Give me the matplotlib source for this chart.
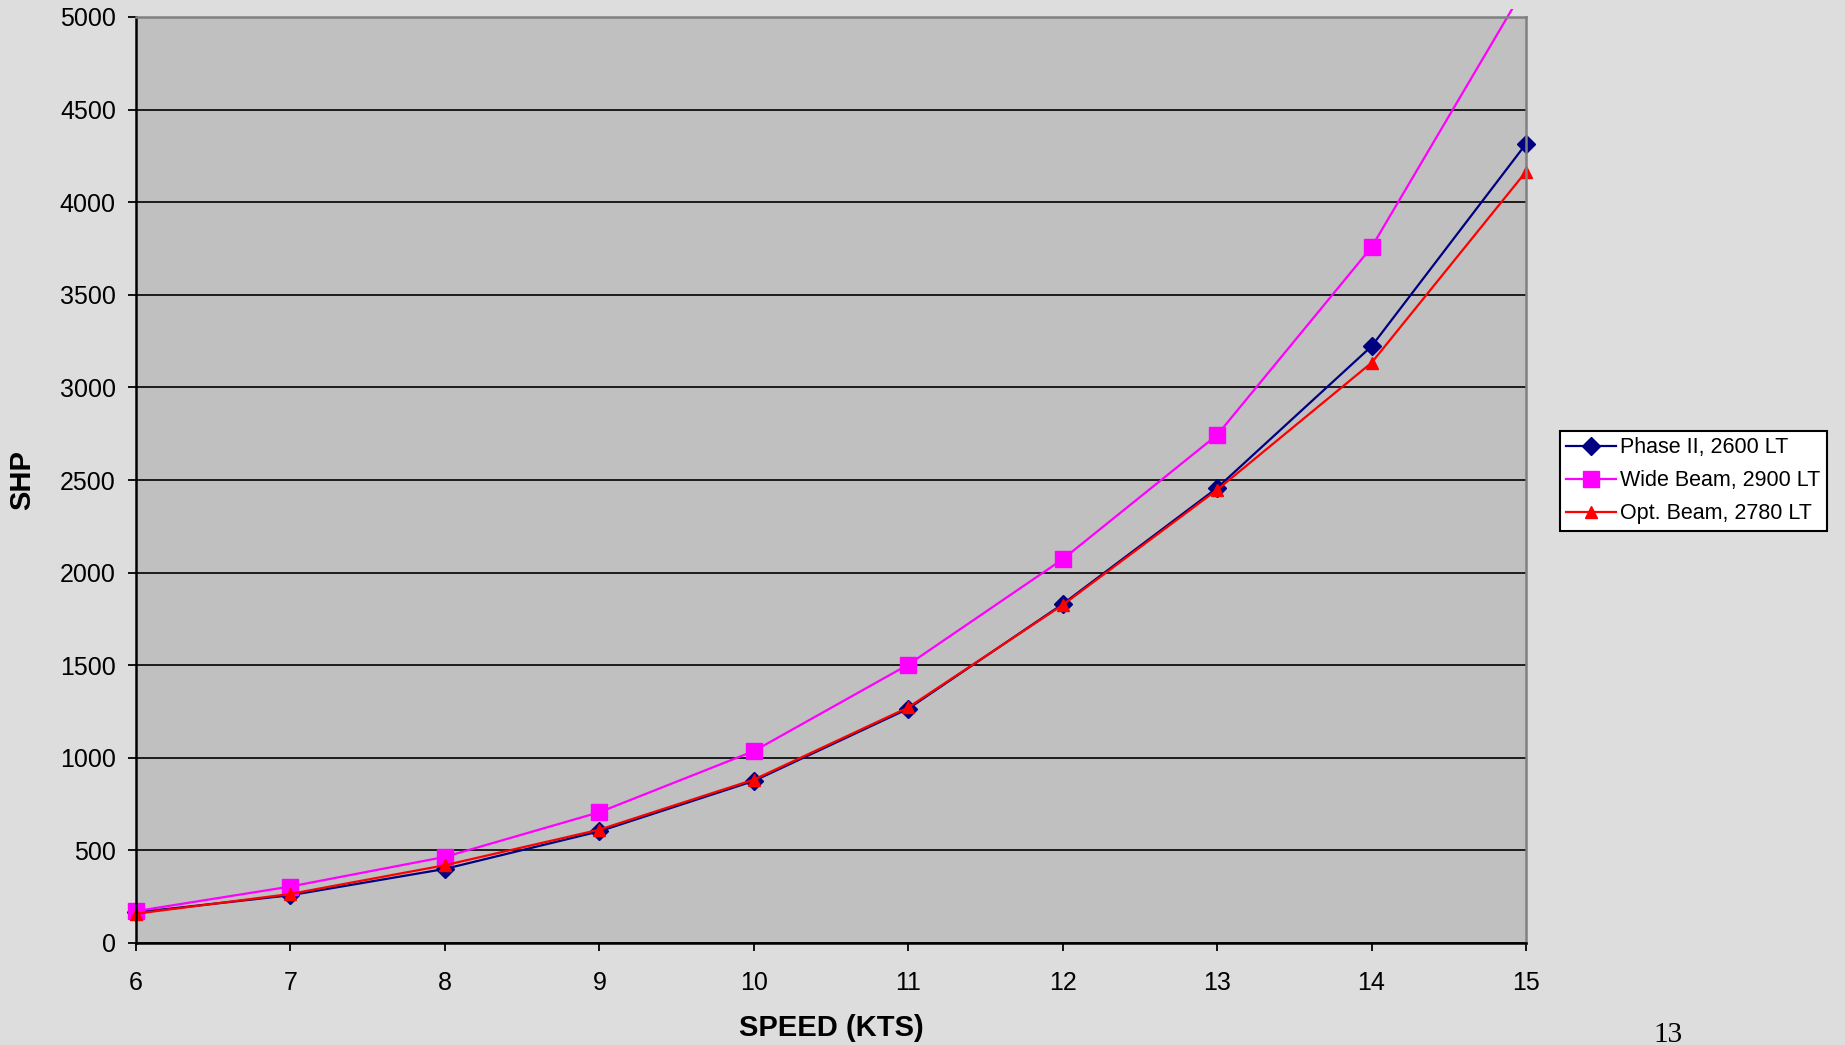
import matplotlib
matplotlib.use('Agg')
import matplotlib.pyplot as plt
from matplotlib.transforms import Bbox, TransformedBbox

plt.rcParams['font.family'] = ['Liberation Sans', 'DejaVu Sans']

# data
speed = [6, 7, 8, 9, 10, 11, 12, 13, 14, 15]
phase2 = [165, 258, 400, 603, 875, 1265, 1830, 2457, 3222, 4315]
wide = [172, 305, 465, 706, 1036, 1503, 2072, 2743, 3757, 5170]
opt = [158, 265, 420, 612, 882, 1272, 1825, 2447, 3133, 4165]
series_names = ['Phase II, 2600 LT', 'Wide Beam, 2900 LT', 'Opt. Beam, 2780 LT']
yticks = list(range(0, 5001, 500))

fig = plt.figure(figsize=(18.45, 10.45), dpi=100)
fig.patch.set_facecolor('#dddddd')
ax = fig.add_axes([136/1845, 1 - 943/1045, 1390/1845, 926/1045])
ax.set_facecolor('#c0c0c0')

l1, = ax.plot(speed, phase2, color='#000080', lw=1.6, marker='D', ms=9,
              label=series_names[0])
l2, = ax.plot(speed, wide, color='#ff00ff', lw=1.6, marker='s', ms=11,
              markeredgecolor='#ff00ff', label=series_names[1])
l3, = ax.plot(speed, opt, color='#ff0000', lw=1.6, marker='^', ms=9,
              label=series_names[2])
# markers on the edges stay whole, the pink line pokes a bit above the top
clip = TransformedBbox(Bbox([[-0.02, -0.02], [1.02, 1.009]]), ax.transAxes)
for ln in (l1, l2, l3):
    ln.set_clip_box(clip)

ax.set_xlim(6, 15)
ax.set_ylim(0, 5000)
ax.set_xticks(speed)
ax.set_yticks(yticks)
ax.yaxis.grid(True, color='black', lw=1.2)
ax.set_axisbelow(True)

for s in ['left', 'bottom']:
    ax.spines[s].set_color('black')
    ax.spines[s].set_linewidth(1.8)
for s in ['top', 'right']:
    ax.spines[s].set_color('#808080')
    ax.spines[s].set_linewidth(1.8)

ax.tick_params(axis='both', direction='out', length=6, width=1.3,
               labelsize=18, colors='black')
ax.tick_params(axis='y', pad=8.5)
ax.tick_params(axis='x', pad=14)

ax.set_xlabel('SPEED (KTS)', fontsize=21, fontweight='bold')
ax.xaxis.set_label_coords(0.5, -0.0765)
ax.set_ylabel('SHP', fontsize=21, fontweight='bold')
ax.yaxis.set_label_coords(-0.072, 0.5)

leg = ax.legend(loc='upper left', bbox_to_anchor=(1560/1845, 1 - 431/1045),
                bbox_transform=fig.transFigure, borderaxespad=0,
                fontsize=15.5, frameon=True, fancybox=False, framealpha=1,
                edgecolor='black', handlelength=2.3, handletextpad=0.2,
                labelspacing=0.55, borderpad=0.3)
leg.get_frame().set_linewidth(1.5)

fig.text(1668/1845, 1 - 1022/1045, '13', family='Liberation Serif',
         fontsize=21, ha='center', va='top')

fig.savefig('out.png', dpi=100, facecolor=fig.get_facecolor())
